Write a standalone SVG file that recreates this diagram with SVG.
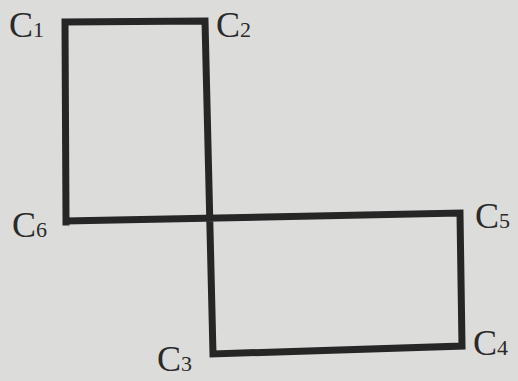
<svg xmlns="http://www.w3.org/2000/svg" width="518" height="381" viewBox="0 0 518 381">
<style>
.edge{stroke:#262626;stroke-width:7;fill:none;stroke-linecap:square;stroke-linejoin:miter}
.lbl{font-family:"Liberation Serif","Times New Roman",serif;fill:#2a2a2a}
.c{font-size:36px}
.s{font-size:22px}
</style>
<rect width="518" height="381" fill="#dcdcda"/>
<g id="connectors">
<path class="edge" d="M66,222 L65,22 L205,21 L213,354 L462,346 L460,213 L68,221"/>
</g>
<g id="C1"><text class="lbl" x="9" y="37"><tspan class="c">C</tspan><tspan class="s">1</tspan></text></g>
<g id="C2"><text class="lbl" x="216" y="37"><tspan class="c">C</tspan><tspan class="s">2</tspan></text></g>
<g id="C3"><text class="lbl" x="157" y="371"><tspan class="c">C</tspan><tspan class="s">3</tspan></text></g>
<g id="C4"><text class="lbl" x="473" y="355"><tspan class="c">C</tspan><tspan class="s">4</tspan></text></g>
<g id="C5"><text class="lbl" x="475" y="228"><tspan class="c">C</tspan><tspan class="s">5</tspan></text></g>
<g id="C6"><text class="lbl" x="12" y="237"><tspan class="c">C</tspan><tspan class="s">6</tspan></text></g>
</svg>
